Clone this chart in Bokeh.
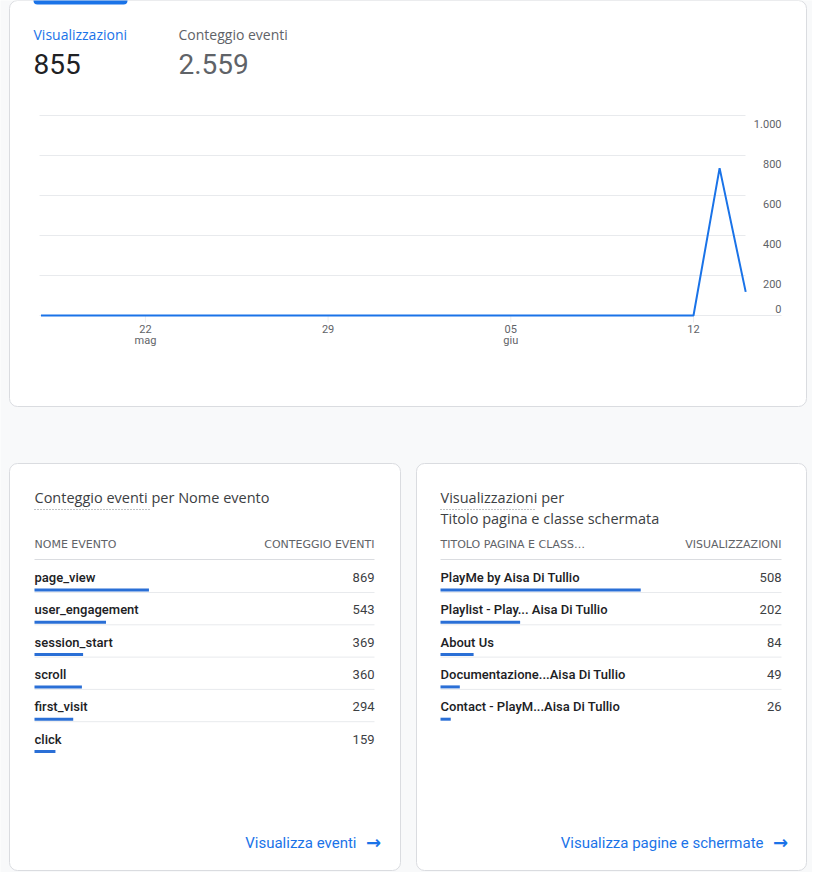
import datetime as dt
from bokeh.plotting import figure
from bokeh.models import Range1d
from bokeh.core.properties import value
from bokeh.embed import file_html
from bokeh.resources import INLINE

# ---------------- data ----------------
dates = [dt.datetime(2023, 5, 18) + dt.timedelta(days=i) for i in range(28)]
views = [0, 0, 0, 0, 0, 0, 0, 0, 0, 0, 0, 0, 0, 0,
         0, 0, 0, 0, 0, 0, 0, 0, 0, 0, 0, 0, 737, 118]

y_ticks = [0, 200, 400, 600, 800, 1000]
y_tick_labels = ["0", "200", "400", "600", "800", "1.000"]
x_tick_dates = [dt.datetime(2023, 5, 22), dt.datetime(2023, 5, 29),
                dt.datetime(2023, 6, 5), dt.datetime(2023, 6, 12)]
x_tick_days = ["22", "29", "05", "12"]
x_tick_months = ["mag", "", "giu", ""]

metric_labels = ["Visualizzazioni", "Conteggio eventi"]
metric_values = ["855", "2.559"]
total_views = 855
total_events = 2559

event_names = ["page_view", "user_engagement", "session_start", "scroll", "first_visit", "click"]
event_counts = [869, 543, 369, 360, 294, 159]

page_titles = ["PlayMe by Aisa Di Tullio", "Playlist - Play... Aisa Di Tullio", "About Us",
               "Documentazione...Aisa Di Tullio", "Contact - PlayM...Aisa Di Tullio"]
page_views = [508, 202, 84, 49, 26]

# ---------------- styles / layout ----------------
BG = "#f8f9fa"
CARD_LINE = "#dadce0"
BLUE = "#1a73e8"
BAR = "#2a6fd6"
DARK = "#202124"
GREY = "#5f6368"
SEP = "#e8eaed"
ROBOTO = value("Roboto")
ROBOTO_MED = value("Roboto Medium, Roboto")
TITLE_FONT = value("Open Sans")

W, H = 812, 872
p = figure(width=W, height=H, x_range=Range1d(8, 8 + W), y_range=Range1d(8 + H, 8),
           x_axis_location=None, y_axis_location=None, output_backend="svg",
           toolbar_location=None, min_border=0)
p.grid.visible = False
p.outline_line_color = None
p.background_fill_color = BG
p.border_fill_color = BG

# chart scales (pixel anchors of the plot area)
DAY_MS = 86400000.0
PX_DAY = 26.1
def ms(d):
    return (d - dt.datetime(1970, 1, 1)).total_seconds() * 1000.0
anchor = ms(dt.datetime(2023, 6, 12))
X_ANCHOR = 701.0
mpp = DAY_MS / PX_DAY
def tx(px):
    return anchor + (px - X_ANCHOR) * mpp
p.extra_x_ranges["t"] = Range1d(tx(8), tx(8 + W))
Y0, Y1000 = 323.0, 123.0
upp = 1000.0 / (Y0 - Y1000)
p.extra_y_ranges["v"] = Range1d(-(8 + H - Y0) * upp, (Y0 - 8) * upp)

# table bar scales
TBL_W = 337.0
LX0, RX0 = 42.0, 448.0
def lin(px0, total):
    u = total / TBL_W
    return Range1d(-(px0 - 8) * u, (8 + W - px0) * u)
p.extra_x_ranges["lt"] = lin(LX0, total_events)
p.extra_x_ranges["rt"] = lin(RX0, total_views)

# ---------------- cards ----------------
p.quad(left=[17, 17, 424], right=[814, 408, 814], top=[8, 471, 471], bottom=[414, 878, 878],
       fill_color="white", line_color=CARD_LINE, line_width=1, border_radius=8)
# selected tab indicator
p.quad(left=[41], right=[135], top=[0], bottom=[12], fill_color=BLUE, line_color=None,
       border_radius=4)

# ---------------- metrics ----------------
p.text(x=[41, 186], y=[42, 42], text=metric_labels, text_color=[BLUE, GREY],
       text_font=TITLE_FONT, text_font_size="14px", text_baseline="middle")
p.text(x=[41, 186], y=[71, 71], text=metric_values, text_color=[DARK, GREY],
       text_font=ROBOTO, text_font_size="28px", text_baseline="middle")

# ---------------- line chart ----------------
p.segment(x0=[tx(47)] * 5, x1=[tx(753)] * 5, y0=y_ticks[1:], y1=y_ticks[1:],
          x_range_name="t", y_range_name="v", line_color="#e8eaed", line_width=1)
p.segment(x0=[tx(47)], x1=[tx(789)], y0=[0], y1=[0],
          x_range_name="t", y_range_name="v", line_color="#e8eaed", line_width=1)
p.segment(x0=x_tick_dates, x1=x_tick_dates, y0=[0] * 4, y1=[-35] * 4,
          x_range_name="t", y_range_name="v", line_color="#eeeeee", line_width=1)
p.line(dates, views, x_range_name="t", y_range_name="v", line_color=BLUE, line_width=2)

p.text(x=[tx(789)] * 6, y=y_ticks, text=y_tick_labels, x_range_name="t", y_range_name="v",
       y_offset=[-7, 8, 8, 8, 8, 8], text_align="right", text_baseline="middle",
       text_font=ROBOTO, text_font_size="11px", text_color=GREY)
p.text(x=x_tick_dates, y=[336] * 4, text=x_tick_days, x_range_name="t",
       text_align="center", text_baseline="middle",
       text_font=ROBOTO, text_font_size="11px", text_color=GREY)
p.text(x=x_tick_dates, y=[348] * 4, text=x_tick_months, x_range_name="t",
       text_align="center", text_baseline="middle",
       text_font=ROBOTO, text_font_size="11px", text_color=GREY)

# ---------------- tables ----------------
ROW0, ROW_H = 585.0, 32.3

def table(x0, x1, rng, titles, header_l, header_r, names, vals, link):
    n = len(names)
    ys = [ROW0 + i * ROW_H for i in range(n)]
    ty = [505 + 21 * i for i in range(len(titles))]
    p.text(x=[x0] * len(titles), y=ty, text=titles, text_font=TITLE_FONT,
           text_font_size="14.5px", text_color="#3c4043", text_baseline="middle")
    p.text(x=[x0, x1], y=[552, 552], text=[header_l, header_r], text_align=["left", "right"],
           text_font=value("DejaVu Sans"), text_font_size="11px", text_color=GREY,
           text_baseline="middle")
    p.segment(x0=[x0], x1=[x1], y0=[567], y1=[567], line_color=CARD_LINE, line_width=1)
    p.segment(x0=[x0] * (n - 1), x1=[x1] * (n - 1), y0=[y + 15 for y in ys[:-1]],
              y1=[y + 15 for y in ys[:-1]], line_color=SEP, line_width=1)
    p.text(x=[x0] * n, y=ys, text=names, text_font=ROBOTO_MED, text_font_size="13px",
           text_color=DARK, text_baseline="middle")
    p.text(x=[x1] * n, y=ys, text=[str(v) for v in vals], text_font=ROBOTO,
           text_font_size="13px", text_color="#3c4043", text_baseline="middle",
           text_align="right")
    p.quad(left=[0] * n, right=vals, top=[y + 11 for y in ys], bottom=[y + 14 for y in ys],
           x_range_name=rng, fill_color=BAR, line_color=None)
    p.text(x=[x1 - 18], y=[850], text=[link], text_font=ROBOTO, text_font_size="15px",
           text_color=BLUE, text_align="right", text_baseline="middle")
    p.text(x=[x1 - 1], y=[850], text=["→"], text_font=value("DejaVu Sans"),
           text_font_size="18px", text_font_style="bold", text_color=BLUE,
           text_align="center", text_baseline="middle")

table(42, 382, "lt", ["Conteggio eventi per Nome evento"], "NOME EVENTO", "CONTEGGIO EVENTI",
      event_names, event_counts, "Visualizza eventi")
table(448, 789, "rt", ["Visualizzazioni per", "Titolo pagina e classe schermata"],
      "TITOLO PAGINA E CLASS…", "VISUALIZZAZIONI", page_titles, page_views,
      "Visualizza pagine e schermate")

# dotted underlines of the table titles
p.segment(x0=[42, 448], x1=[158, 542], y0=[517, 517], y1=[517, 517],
          line_dash="1 2", line_color="#80868b", line_width=1)

open("out.html", "w").write(file_html(p, INLINE))
